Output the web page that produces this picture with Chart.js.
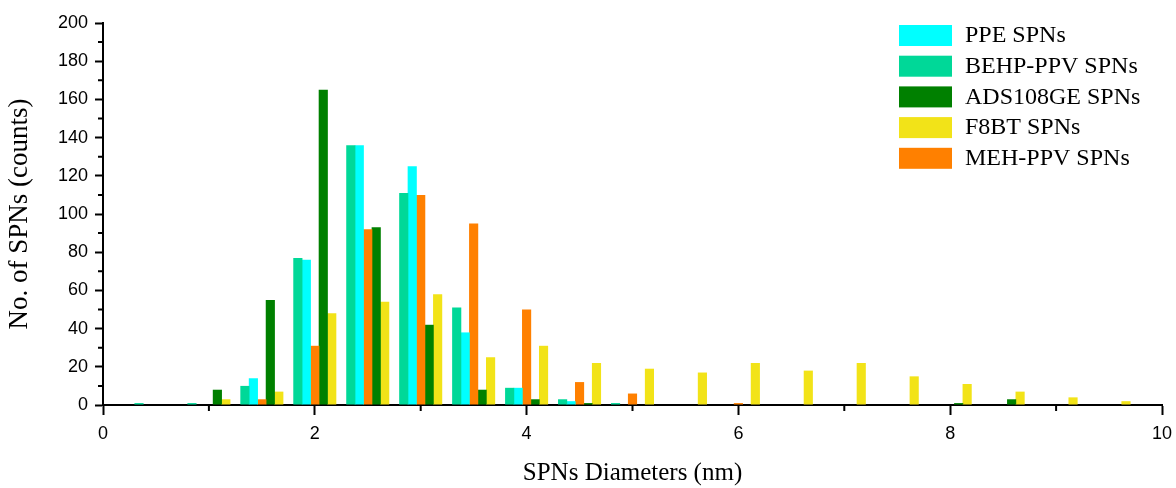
<!DOCTYPE html>
<html>
<head>
<meta charset="utf-8">
<script src="https://cdn.jsdelivr.net/npm/chart.js@4/dist/chart.umd.min.js"></script>
<style>
  body { margin: 0; background: #fff; }
  #wrap { width: 1176px; height: 488px; }
</style>
</head>
<body>
<div id="wrap"><canvas id="sizeChart" width="1176" height="488"></canvas></div>
<script>
// bin centres (nm) and counts per polymer
const bins = [0.5, 1, 1.5, 2, 2.5, 3, 3.5, 4, 4.5, 5, 5.5, 6, 6.5, 7, 7.5, 8, 8.5, 9, 9.5];
const behpCounts = [1, 1, 10, 77, 136, 111, 51, 9, 3, 1, 0, 0, 0, 0, 0, 0, 0, 0, 0];
const ppeCounts  = [0, 0, 14, 76, 136, 125, 38, 9, 2, 0, 0, 0, 0, 0, 0, 0, 0, 0, 0];
const mehCounts  = [0, 0, 3, 31, 92, 110, 95, 50, 12, 6, 0, 1, 0, 0, 0, 0, 0, 0, 0];
const adsCounts  = [0, 8, 55, 165, 93, 42, 8, 3, 1, 0, 0, 0, 0, 0, 0, 1, 3, 0, 0];
const f8btCounts = [0, 3, 7, 48, 54, 58, 25, 31, 22, 19, 17, 22, 18, 22, 15, 11, 7, 4, 2];

const seriesNames = ["BEHP-PPV SPNs", "PPE SPNs", "MEH-PPV SPNs", "ADS108GE SPNs", "F8BT SPNs"];
const legendOrder = ["PPE SPNs", "BEHP-PPV SPNs", "ADS108GE SPNs", "F8BT SPNs", "MEH-PPV SPNs"];
const xTicks = [0, 2, 4, 6, 8, 10];
const yTicks = [0, 20, 40, 60, 80, 100, 120, 140, 160, 180, 200];

const colors = ["#00d898", "#00ffff", "#ff8000", "#008000", "#f2e318"];
const allCounts = [behpCounts, ppeCounts, mehCounts, adsCounts, f8btCounts];

const serif = "'Liberation Serif', 'Times New Roman', serif";
const sans = "'Liberation Sans', Arial, sans-serif";

function toPoints(vals) {
    return bins.map((b, i) => ({x: b, y: vals[i]}));
}

// minor ticks + legend drawn inside the plot
const extras = {
    id: "extras",
    afterDraw(chart) {
        const ctx = chart.ctx;
        const xs = chart.scales.x, ys = chart.scales.y;
        ctx.save();
        ctx.strokeStyle = "#000";
        ctx.lineWidth = 2;
        ctx.beginPath();
        for (let v = 1; v < 10; v += 2) {
            let px = xs.getPixelForValue(v);
            ctx.moveTo(px, ys.bottom);
            ctx.lineTo(px, ys.bottom + 6);
        }
        for (let v = 10; v < 200; v += 20) {
            let py = ys.getPixelForValue(v);
            ctx.moveTo(xs.left, py);
            ctx.lineTo(xs.left - 5, py);
        }
        ctx.stroke();

        ctx.font = "24px " + serif;
        ctx.textBaseline = "middle";
        ctx.fillStyle = "#000";
        legendOrder.forEach((name, i) => {
            let k = seriesNames.indexOf(name);
            let y = 25 + i * 30.7;
            ctx.fillStyle = colors[k];
            ctx.fillRect(899, y, 53, 21);
            ctx.fillStyle = "#000";
            ctx.fillText(name, 965, y + 11);
        });
        ctx.restore();
    }
};

new Chart(document.getElementById("sizeChart"), {
    type: "bar",
    data: {
        datasets: seriesNames.map((name, k) => ({
            label: name,
            data: toPoints(allCounts[k]),
            backgroundColor: colors[k],
            borderWidth: 0,
            categoryPercentage: 0.8,
            barPercentage: 1.08
        }))
    },
    options: {
        responsive: false,
        animation: false,
        layout: {padding: {left: 0, top: 23, right: 14, bottom: 0}},
        plugins: {legend: {display: false}, tooltip: {enabled: false}},
        scales: {
            x: {
                type: "linear",
                min: 0,
                max: 10,
                offset: false,
                afterBuildTicks: s => { s.ticks = xTicks.map(v => ({value: v})); },
                afterFit: s => { s.height = 83; s.paddingRight = 0; s.paddingLeft = 0; },
                grid: {offset: false, drawOnChartArea: false, tickLength: 10, tickWidth: 2, tickColor: "#000"},
                border: {color: "#000", width: 2},
                ticks: {color: "#000", padding: 8, font: {family: sans, size: 18}},
                title: {display: true, text: "SPNs Diameters (nm)", color: "#000",
                        font: {family: serif, size: 25}, padding: {top: 0, bottom: 0}}
            },
            y: {
                min: 0,
                max: 200,
                afterBuildTicks: s => { s.ticks = yTicks.map(v => ({value: v})); },
                afterFit: s => { s.width = 103; },
                grid: {drawOnChartArea: false, tickLength: 8, tickWidth: 2, tickColor: "#000"},
                border: {color: "#000", width: 2},
                ticks: {color: "#000", padding: 7, font: {family: sans, size: 18}},
                title: {display: true, text: "No. of SPNs (counts)", color: "#000",
                        font: {family: serif, size: 27}, padding: {top: 4, bottom: 0}}
            }
        }
    },
    plugins: [extras]
});
</script>
</body>
</html>
